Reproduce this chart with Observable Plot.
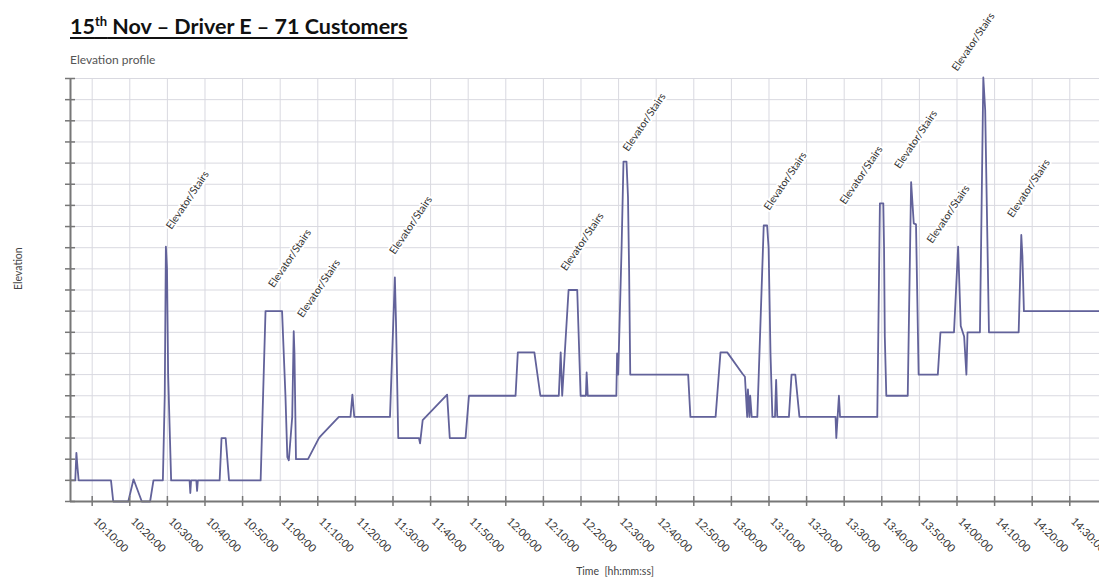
<!DOCTYPE html>
<html>
<head>
<meta charset="utf-8">
<script src="https://cdn.jsdelivr.net/npm/d3@7"></script>
<script src="https://cdn.jsdelivr.net/npm/@observablehq/plot@0.6"></script>
<style>
  html, body { margin: 0; padding: 0; background: #fff; overflow: hidden; width: 1099px; height: 581px; }
  #wrap { position: relative; width: 1099px; height: 581px; overflow: hidden; }
  #chart { position: absolute; left: 0; top: 0; }
  #chart svg { max-width: none !important; }
  #title { position: absolute; left: 70px; top: 16px; font-family: Lato, "Open Sans", sans-serif; font-weight: bold; font-size: 21.5px; line-height: 1; color: #111; text-decoration: underline; text-decoration-thickness: 2px; text-underline-offset: 3px; white-space: nowrap; z-index: 2; }
  #title sup { font-size: 13px; line-height: 0; vertical-align: 8px; }
  #subtitle { position: absolute; left: 70px; top: 52px; font-family: Lato, "Open Sans", sans-serif; font-size: 12px; color: #555; white-space: nowrap; z-index: 2; }
</style>
</head>
<body>
<div id="wrap">
  <div id="title">15<sup>th</sup> Nov – Driver E – 71 Customers</div>
  <div id="subtitle">Elevation profile</div>
  <div id="chart"></div>
</div>
<script>
// ---- data ----
const times = [
  "10:04:15","10:05:30","10:05:48","10:06:06","10:06:24","10:15:00","10:15:36","10:19:36","10:21:00","10:23:12",
  "10:25:24","10:26:18","10:28:48","10:29:18","10:29:36","10:29:54","10:30:12","10:31:00","10:35:54","10:36:06",
  "10:36:18","10:37:42","10:37:54","10:38:06","10:43:54","10:44:24","10:45:30","10:46:24","10:54:48","10:56:06",
  "11:00:30","11:01:24","11:01:54","11:02:18","11:03:12","11:03:36","11:03:48","11:04:12","11:07:24","11:10:18",
  "11:10:48","11:15:36","11:18:42","11:19:12","11:19:42","11:29:12","11:30:30","11:30:48","11:31:24","11:36:54",
  "11:37:12","11:37:54","11:44:24","11:45:06","11:49:18","11:50:12","12:02:36","12:03:12","12:07:36","12:09:12",
  "12:14:06","12:14:36","12:15:00","12:16:42","12:19:00","12:19:54","12:21:18","12:21:30","12:21:48","12:29:24",
  "12:29:36","12:29:54","12:30:48","12:31:18","12:32:06","12:32:30","12:32:48","12:33:06","12:48:30","12:49:06",
  "12:55:48","12:57:06","12:58:54","13:02:54","13:03:36","13:04:12","13:04:24","13:04:48","13:05:00","13:05:24",
  "13:06:54","13:08:36","13:09:30","13:09:54","13:10:24","13:10:54","13:11:36","13:11:54","13:12:12","13:15:18",
  "13:16:00","13:17:00","13:18:06","13:27:42","13:27:54","13:28:36","13:28:54","13:38:48","13:39:30","13:40:24",
  "13:40:36","13:40:48","13:41:12","13:46:54","13:47:48","13:48:30","13:49:06","13:49:48","13:54:54","13:55:36",
  "13:59:12","14:00:18","14:01:00","14:01:54","14:02:30","14:02:48","14:06:06","14:07:00","14:07:30","14:08:30",
  "14:16:24","14:17:06","14:17:24","14:17:48","14:38:00"
];
const elevation = [
  1, 1, 2.3, 1.6, 1, 1, 0, 0, 1.05, 0,
  0, 1, 1, 5, 12.05, 11, 6, 1, 1, 0.4,
  1, 1, 0.5, 1, 1, 3, 3, 1, 1, 9,
  9, 5, 2.1, 1.95, 4, 8.05, 7, 2, 2, 3,
  3.1, 4, 4, 5.05, 4, 4, 10.6, 8.5, 3, 3,
  2.75, 3.85, 5.05, 3, 3, 5, 5, 7.05, 7.05, 5,
  5, 7.05, 5, 10, 10, 5, 5, 6.1, 5, 5,
  7, 6, 12, 16.07, 16.07, 14.4, 10.9, 6, 6, 4,
  4, 7.05, 7.05, 6.05, 5.9, 4, 5.3, 4, 5, 4,
  4, 13.05, 13.05, 12, 7, 4, 4, 5.75, 4, 4,
  6, 6, 4, 4, 3, 5, 4, 4, 14.1, 14.1,
  12, 7.8, 5, 5, 15.1, 13.15, 13.1, 6, 6, 8,
  8, 12.05, 8.3, 7.8, 6, 8, 8, 20.05, 18.5, 8,
  8, 12.6, 11.6, 9, 9
];
const labelText = "Elevator/Stairs";
const labelTimes = ["10:31:06","10:58:18","11:06:00","11:30:30","12:16:06","12:32:36","13:10:06","13:30:18","13:44:48","13:53:24","14:00:03","14:14:48"];
const labelLevels = [12.84, 10.08, 8.66, 11.65, 10.87, 16.52, 13.74, 14.02, 15.71, 12.17, 20.32, 13.39];
const xTicks = ["10:10:00","10:20:00","10:30:00","10:40:00","10:50:00","11:00:00","11:10:00","11:20:00","11:30:00","11:40:00",
  "11:50:00","12:00:00","12:10:00","12:20:00","12:30:00","12:40:00","12:50:00","13:00:00","13:10:00","13:20:00",
  "13:30:00","13:40:00","13:50:00","14:00:00","14:10:00","14:20:00","14:30:00"];
const yTicks = [0,1,2,3,4,5,6,7,8,9,10,11,12,13,14,15,16,17,18,19,20];
const xDomain = ["10:04:14","14:37:54"];
const yDomain = [0, 20];

// ---- build ----
const parse = d3.timeParse("%H:%M:%S");
const fmt = d3.timeFormat("%H:%M:%S");
const series = times.map((t, i) => ({time: parse(t), elev: elevation[i]}));
const labels = labelTimes.map((t, i) => ({time: parse(t), elev: labelLevels[i]}));
const ticks = xTicks.map(parse);
const xd = xDomain.map(parse);

const chart = Plot.plot({
  width: 1099,
  height: 581,
  marginTop: 78,
  marginBottom: 80,
  marginLeft: 70,
  marginRight: 0,
  style: {fontFamily: "Lato, 'Open Sans', sans-serif", fontSize: "11px", color: "#333", background: "transparent", overflow: "visible"},
  x: {type: "time", domain: xd, label: null},
  y: {domain: yDomain, label: null},
  marks: [
    Plot.gridY(yTicks, {stroke: "#d9d9e0", strokeOpacity: 1, strokeWidth: 1}),
    Plot.gridX(ticks, {stroke: "#d9d9e0", strokeOpacity: 1, strokeWidth: 1}),
    Plot.line(series, {x: "time", y: "elev", stroke: "#62629a", strokeWidth: 1.8, strokeLinejoin: "round"}),
    Plot.text(labels, {x: "time", y: "elev", text: () => labelText, rotate: -56, textAnchor: "start", lineAnchor: "bottom", fontSize: 10.5, fill: "#333", stroke: "white", strokeWidth: 4, clip: false}),
    Plot.ruleY([yDomain[0]], {stroke: "#777", strokeWidth: 2}),
    Plot.ruleX([xd[0]], {stroke: "#777", strokeWidth: 2}),
    Plot.axisX(ticks, {tickSize: 10, dy: -5, tickFormat: () => "", stroke: "#777", strokeWidth: 1.5, label: null}),
    Plot.axisY(yTicks, {tickSize: 10, dx: 5, tickFormat: () => "", stroke: "#777", strokeWidth: 1.5, label: null}),
    Plot.text(ticks, {x: d => d, frameAnchor: "bottom", text: d => fmt(d), rotate: 45, textAnchor: "start", lineAnchor: "middle", dx: 3, dy: 18, fontSize: 11, fill: "#333"}),
    Plot.text(["Elevation"], {frameAnchor: "left", dx: -52, rotate: -90, fontSize: 10.5, fill: "#444"}),
    Plot.text(["Time  [hh:mm:ss]"], {frameAnchor: "bottom", dx: 30, dy: 73, fontSize: 10.5, fill: "#444"})
  ]
});
document.getElementById("chart").appendChild(chart);
</script>
</body>
</html>
